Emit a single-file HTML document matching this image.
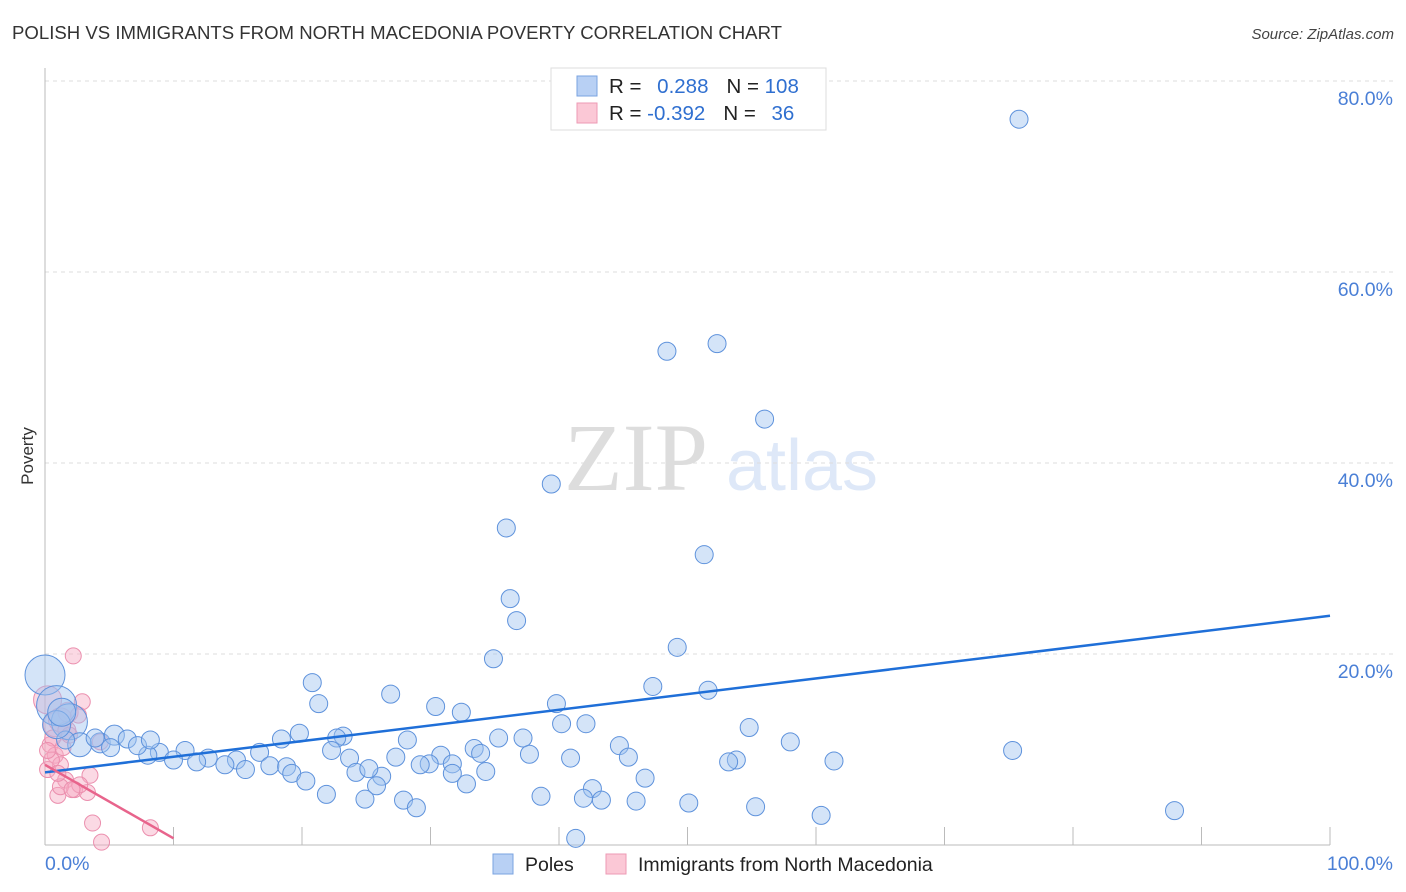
<!DOCTYPE html>
<html><head><meta charset="utf-8"><style>
body{margin:0;background:#fff;font-family:"Liberation Sans",sans-serif}
</style></head><body>
<svg id="chart" width="1406" height="892" xmlns="http://www.w3.org/2000/svg" style="display:block">
<text x="12" y="39" font-size="18.6" fill="#333">POLISH VS IMMIGRANTS FROM NORTH MACEDONIA POVERTY CORRELATION CHART</text>
<text x="1394" y="39" font-size="15" fill="#444" font-style="italic" text-anchor="end">Source: ZipAtlas.com</text>
<text transform="translate(33,456) rotate(-90)" font-size="17" fill="#333" text-anchor="middle">Poverty</text>
<g opacity="0.28">
<text x="636" y="490" font-family="Liberation Serif,serif" font-size="96" fill="#888" text-anchor="middle">ZIP</text>
<text x="802" y="490" font-size="72" fill="#8ab0e8" text-anchor="middle">atlas</text>
</g>
<g id="grid"></g><g id="marks"></g>
<g>
<rect x="551" y="68" width="275" height="62" fill="#fff" stroke="#ddd"/>
<rect x="577" y="76" width="20" height="20" fill="#b8d0f4" stroke="#7aa3e0"/>
<rect x="577" y="103" width="20" height="20" fill="#fbc8d6" stroke="#ee9ab4"/>
<text x="609" y="93" font-size="20.5" fill="#222">R = <tspan fill="#2f6fd0" dx="10">0.288</tspan><tspan fill="#222" dx="18">N = </tspan><tspan fill="#2f6fd0">108</tspan></text>
<text x="609" y="120" font-size="20.5" fill="#222">R = <tspan fill="#2f6fd0">-0.392</tspan><tspan fill="#222" dx="18">N = </tspan><tspan fill="#2f6fd0" dx="10">36</tspan></text>
</g>
<g>
<rect x="493" y="854" width="20" height="20" fill="#b8d0f4" stroke="#7aa3e0"/>
<text x="525" y="871" font-size="19.5" fill="#222">Poles</text>
<rect x="606" y="854" width="20" height="20" fill="#fbc8d6" stroke="#ee9ab4"/>
<text x="638" y="871" font-size="19.5" fill="#222">Immigrants from North Macedonia</text>
</g>
</svg>
<script>
const yTicks=[20,40,60,80];
const yTickLabels=["20.0%","40.0%","60.0%","80.0%"];
const xTicks=[10,20,30,40,50,60,70,80,90,100];
const polesX=[75.8,52.3,48.4,56.0,39.4,35.9,51.3,36.2,36.7,49.2,34.9,20.8,47.3,51.6,26.9,21.3,39.8,30.4,32.4,42.1,40.2,54.8,19.8,23.2,22.7,35.3,37.2,28.2,18.4,58.0,44.7,33.4,75.3,22.3,33.9,16.7,37.7,45.4,30.8,40.9,23.7,27.3,53.8,53.2,61.4,29.9,31.7,29.2,17.5,18.8,14.9,12.7,10.9,8.9,8.0,10.0,11.8,14.0,15.6,19.2,24.2,26.2,34.3,25.2,31.7,46.7,20.3,25.8,42.6,32.8,21.9,38.6,24.9,41.9,43.3,27.9,46.0,50.1,28.9,55.3,87.9,60.4,41.3,0.0,0.9,1.9,2.7,4.3,5.4,6.4,7.2,3.9,5.1,1.6,8.2,0.9,1.3];
const polesY=[76.0,52.5,51.7,44.6,37.8,33.2,30.4,25.8,23.5,20.7,19.5,17.0,16.6,16.2,15.8,14.8,14.8,14.5,13.9,12.7,12.7,12.3,11.7,11.4,11.2,11.2,11.2,11.0,11.1,10.8,10.4,10.1,9.9,9.9,9.6,9.7,9.5,9.2,9.4,9.1,9.1,9.2,8.9,8.7,8.8,8.5,8.5,8.4,8.3,8.2,8.9,9.1,9.9,9.7,9.4,8.9,8.7,8.4,7.9,7.5,7.6,7.2,7.7,8.0,7.5,7.0,6.7,6.2,5.9,6.4,5.3,5.1,4.8,4.9,4.7,4.7,4.6,4.4,3.9,4.0,3.6,3.1,0.7,17.8,14.6,12.9,10.5,10.7,11.5,11.1,10.4,11.2,10.2,11.0,11.0,12.6,13.9];
const polesR=[9,9,9,9,9,9,9,9,9,9,9,9,9,9,9,9,9,9,9,9,9,9,9,9,9,9,9,9,9,9,9,9,9,9,9,9,9,9,9,9,9,9,9,9,9,9,9,9,9,9,9,9,9,9,9,9,9,9,9,9,9,9,9,9,9,9,9,9,9,9,9,9,9,9,9,9,9,9,9,9,9,9,9,20,20,18,12,10,10,9,9,9,9,9,9,14,14];
const macX=[2.2,2.9,0.2,0.8,1.2,1.7,0.4,0.8,1.2,0.2,1.6,3.5,2.3,3.3,1.0,0.5,1.4,1.9,3.7,4.4,8.2,1.8,4.3,1.2,2.7,0.6,1.0,0.2,2.6,2.1];
const macY=[19.8,15.0,15.2,12.6,13.1,12.0,10.5,9.4,8.4,7.9,6.8,7.3,5.8,5.5,5.2,8.9,10.2,11.5,2.3,0.3,1.8,13.9,10.8,6.1,6.3,11.2,7.5,9.9,13.6,5.8];
const macR=[8,8,14,12,12,9,8,8,8,8,8,8,8,8,8,8,8,8,8,8,8,10,8,8,8,8,8,8,8,8];
const polesTrend=[7.6,24.0];
const macTrend=[8.4,0.7];
const macTrendEnd=10;

const X0=45,X1=1330,Y0=845,YPER=9.55;
const xs=v=>X0+(X1-X0)*v/100;
const ys=v=>Y0-v*YPER;
const NS="http://www.w3.org/2000/svg";
const grid=document.getElementById('grid'),marks=document.getElementById('marks');
function mk(tag,attrs,parent){const e=document.createElementNS(NS,tag);for(const k in attrs)e.setAttribute(k,attrs[k]);parent.appendChild(e);return e;}
yTicks.forEach((t,i)=>{
  const l=mk('line',{x1:X0,x2:1394,y1:ys(t),y2:ys(t),stroke:'#ddd','stroke-dasharray':'4,4'},grid);
  
  
  const tx=mk('text',{x:1393,y:ys(t)+24,'font-size':19.5,fill:'#4a7fd6','text-anchor':'end'},grid);
  tx.textContent=yTickLabels[i];
  
  
});
const ax=mk('line',{x1:X0,x2:X1,y1:Y0,y2:Y0,stroke:'#bbb'},grid);


const ay=mk('line',{x1:X0,x2:X0,y1:68,y2:Y0,stroke:'#bbb'},grid);


xTicks.forEach(t=>{
  const l=mk('line',{x1:xs(t),x2:xs(t),y1:Y0-18,y2:Y0,stroke:'#bbb'},grid);
  
  
});
const x0l=mk('text',{x:45,y:870,'font-size':19.5,fill:'#4a7fd6'},grid);x0l.textContent='0.0%';


const x1l=mk('text',{x:1393,y:870,'font-size':19.5,fill:'#4a7fd6','text-anchor':'end'},grid);x1l.textContent='100.0%';


macX.forEach((x,i)=>{
  const c=mk('circle',{cx:xs(x),cy:ys(macY[i]),r:macR[i],fill:'rgba(247,170,195,0.45)',stroke:'#eb8fae','stroke-width':1},marks);
  
  
});
polesX.forEach((x,i)=>{
  const c=mk('circle',{cx:xs(x),cy:ys(polesY[i]),r:polesR[i],fill:'rgba(160,195,240,0.45)',stroke:'#5e92dc','stroke-width':1},marks);
  
  
});
const pl=mk('line',{x1:xs(0),y1:ys(polesTrend[0]),x2:xs(100),y2:ys(polesTrend[1]),stroke:'#1f6fd8','stroke-width':2.5},marks);


const ml=mk('line',{x1:xs(0),y1:ys(macTrend[0]),x2:xs(macTrendEnd),y2:ys(macTrend[1]),stroke:'#e8648c','stroke-width':2.5},marks);


</script>
</body></html>
